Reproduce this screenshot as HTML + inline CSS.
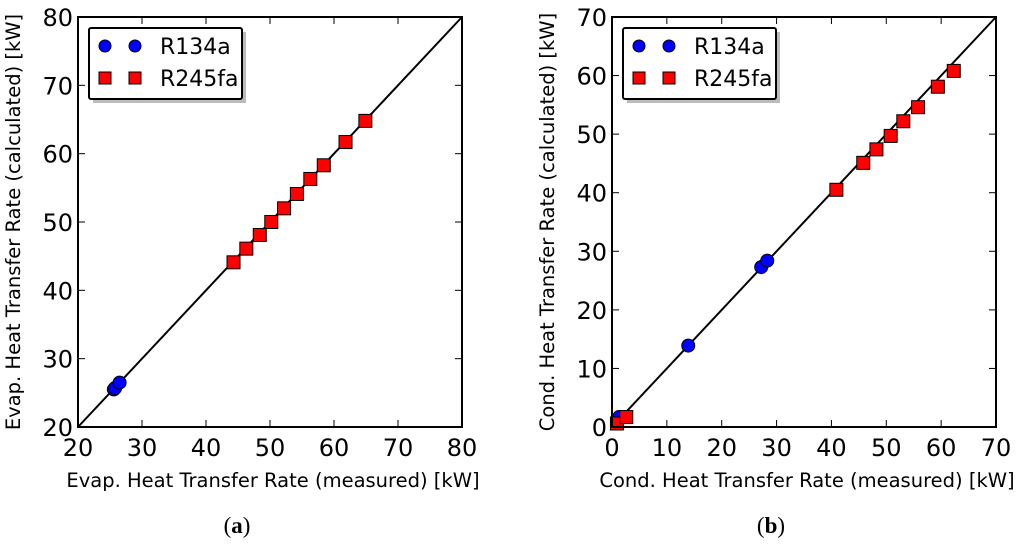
<!DOCTYPE html>
<html><head><meta charset="utf-8"><style>
body{margin:0;background:#fff;width:1024px;height:551px;overflow:hidden}
svg{font-family:"DejaVu Sans","Liberation Sans",sans-serif}
</style></head><body>
<svg id="s" width="1024" height="551"></svg>
<script>
const evapR245X=[44.3,46.3,48.4,50.2,52.2,54.2,56.3,58.4,61.8,64.9];
const evapR245Y=[44.1,46.1,48.1,50.0,52.0,54.1,56.3,58.3,61.7,64.8];
const evapR134X=[25.6,25.8,26.5];
const evapR134Y=[25.5,25.7,26.5];
const condR245X=[0.9,2.6,40.9,45.8,48.2,50.8,53.1,55.8,59.4,62.3];
const condR245Y=[0.6,1.7,40.5,45.1,47.4,49.7,52.2,54.6,58.1,60.8];
const condR134X=[1.3,13.9,27.2,28.3];
const condR134Y=[1.7,13.9,27.3,28.4];
const evapTicks=[20,30,40,50,60,70,80];
const condTicks=[0,10,20,30,40,50,60,70];
const NS="http://www.w3.org/2000/svg";
const svg=document.getElementById('s');
function el(t,a,p){const e=document.createElementNS(NS,t);for(const k in a)e.setAttribute(k,a[k]);(p||svg).appendChild(e);return e;}
function panel(cfg){
 const g=el('g',{});
 
 
 const L=cfg.x0,R=cfg.x0+384,T=17,B=427;
 const sx=v=>L+(v-cfg.min)/(cfg.max-cfg.min)*(R-L);
 const sy=v=>B-(v-cfg.min)/(cfg.max-cfg.min)*(B-T);
 cfg.ticks.forEach(t=>{
  el('line',{x1:sx(t),x2:sx(t),y1:B,y2:B-7,stroke:'#000','stroke-width':1},g);
  el('line',{x1:sx(t),x2:sx(t),y1:T,y2:T+7,stroke:'#000','stroke-width':1},g);
  el('line',{x1:L,x2:L+7,y1:sy(t),y2:sy(t),stroke:'#000','stroke-width':1},g);
  el('line',{x1:R,x2:R-7,y1:sy(t),y2:sy(t),stroke:'#000','stroke-width':1},g);
  const xt=el('text',{x:sx(t),y:456,'font-size':24,'text-anchor':'middle'},g);xt.textContent=t;
  
  
  const yt=el('text',{x:L-5,y:sy(t)+9,'font-size':24,'text-anchor':'end'},g);yt.textContent=t;
  
  
 });
 const d=el('line',{x1:sx(cfg.min),y1:sy(cfg.min),x2:sx(cfg.max),y2:sy(cfg.max),stroke:'#000','stroke-width':2},g);
 
 
 cfg.cx.forEach((v,i)=>{
  const c=el('circle',{cx:sx(v),cy:sy(cfg.cy[i]),r:6.5,fill:'#0000ff',stroke:'#000','stroke-width':1},g);
  
  
 });
 cfg.qx.forEach((v,i)=>{
  const q=el('rect',{x:sx(v)-6.5,y:sy(cfg.qy[i])-6.5,width:13,height:13,fill:'#ff0000',stroke:'#000','stroke-width':1},g);
  
  
 });
 el('rect',{x:L,y:T,width:R-L,height:B-T,fill:'none',stroke:'#000','stroke-width':2},g);
 const lx=L+11,ly=28;
 el('rect',{x:lx+4,y:ly+4,width:153,height:71,fill:'#bbb'},g);
 const lb=el('rect',{x:lx,y:ly,width:153,height:71,fill:'#fff',stroke:'#000','stroke-width':2,rx:2},g);
 
 
 [16,46].forEach(p=>el('circle',{cx:lx+p,cy:ly+18,r:6,fill:'#0000ff',stroke:'#000'},g));
 [16,46].forEach(p=>el('rect',{x:lx+p-6,y:ly+44,width:12,height:12,fill:'#ff0000',stroke:'#000'},g));
 const t1=el('text',{x:lx+71,y:ly+26,'font-size':22},g);t1.textContent='R134a';
 
 
 const t2=el('text',{x:lx+71,y:ly+58,'font-size':22},g);t2.textContent='R245fa';
 
 
 const xl=el('text',{x:(L+R)/2+3,y:487,'font-size':19.5,'text-anchor':'middle'},g);xl.textContent=cfg.xlab;
 
 
 const ylx=L-58,yly=(T+B)/2;
 const yl=el('text',{x:ylx,y:yly,'font-size':19.5,'text-anchor':'middle',transform:`rotate(-90 ${ylx} ${yly})`},g);yl.textContent=cfg.ylab;
 
 
 const cap=el('text',{x:(L+R)/2-33,y:533,'font-size':23,'text-anchor':'middle','font-family':'Liberation Serif, serif'},g);
 cap.innerHTML='(<tspan font-weight="bold">'+cfg.cap+'</tspan>)';
 
 
}
panel({name:'evaporator-chart',x0:78,min:20,max:80,ticks:evapTicks,cx:evapR134X,cy:evapR134Y,qx:evapR245X,qy:evapR245Y,
 xlab:'Evap. Heat Transfer Rate (measured) [kW]',ylab:'Evap. Heat Transfer Rate (calculated) [kW]',cap:'a'});
panel({name:'condenser-chart',x0:612,min:0,max:70,ticks:condTicks,cx:condR134X,cy:condR134Y,qx:condR245X,qy:condR245Y,
 xlab:'Cond. Heat Transfer Rate (measured) [kW]',ylab:'Cond. Heat Transfer Rate (calculated) [kW]',cap:'b'});
</script>
</body></html>
